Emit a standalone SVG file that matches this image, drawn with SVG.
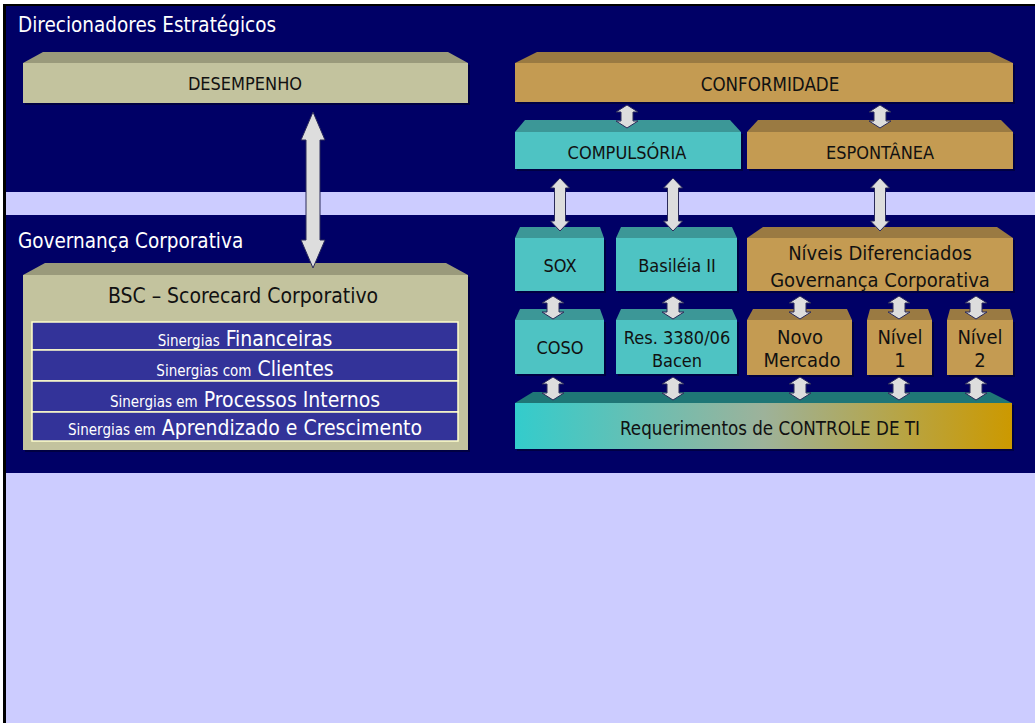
<svg xmlns="http://www.w3.org/2000/svg" width="1035" height="723" viewBox="0 0 1035 723">
<defs>
<linearGradient id="gradTI" x1="0" y1="0" x2="1" y2="0">
<stop offset="0" stop-color="#33CCCC"/>
<stop offset="0.5" stop-color="#9DB29A"/>
<stop offset="1" stop-color="#CC9900"/>
</linearGradient>
<style>
text{font-family:"DejaVu Sans Condensed","DejaVu Sans",sans-serif;font-stretch:condensed}
.lbl{font-size:18px;fill:#111111;text-anchor:middle}
.big{font-size:20px;fill:#111111;text-anchor:middle}
.sec{font-size:20.5px;fill:#FFFFFF}
.row{font-size:21px;fill:#FFFFFF;text-anchor:middle}
.sm{font-size:15px}
.olF{fill:#C3C39E}.olT{fill:#9A9A7B}
.goF{fill:#C49B52}.goT{fill:#9A7A42}
.teF{fill:#4EC3C3}.teT{fill:#3C9797}
.shd{fill:#000000;opacity:0.35}
.rowr{fill:#333399;stroke:#FFFFCC;stroke-width:1.5}
.arr{fill:#DDDDDD;stroke:#2A2A5A;stroke-width:1}
</style>
</defs>
<rect x="0" y="0" width="1035" height="723" fill="#FFFFFF"/>
<rect x="3" y="4" width="1032" height="719" fill="#000000"/>
<rect x="6" y="6" width="1029" height="186" fill="#000066"/>
<rect x="6" y="192" width="1029" height="23" fill="#CCCCFF"/>
<rect x="6" y="215" width="1029" height="258" fill="#000066"/>
<rect x="6" y="473" width="1029" height="250" fill="#CCCCFF"/>
<text class="sec" x="18" y="32">Direcionadores Estratégicos</text>
<text class="sec" x="18" y="248">Governança Corporativa</text>

<g id="desempenho">
<rect class="shd" x="25" y="65" width="445" height="40"/>
<polygon class="olT" points="23,63 43,52 448,52 468,63"/>
<rect class="olF" x="23" y="63" width="445" height="40"/>
<text class="lbl" x="245" y="90">DESEMPENHO</text>
</g>

<g id="bsc">
<rect class="shd" x="25" y="277" width="445" height="175"/>
<polygon class="olT" points="23,275 45,263 446,263 468,275"/>
<rect class="olF" x="23" y="275" width="445" height="175"/>
<text class="big" x="243" y="303" style="font-size:21px">BSC – Scorecard Corporativo</text>
<rect class="rowr" x="32" y="322" width="426" height="28"/>
<rect class="rowr" x="32" y="350" width="426" height="31"/>
<rect class="rowr" x="32" y="381" width="426" height="31"/>
<rect class="rowr" x="32" y="412" width="426" height="29"/>
<text class="row" x="245" y="346"><tspan class="sm">Sinergias</tspan> Financeiras</text>
<text class="row" x="245" y="376"><tspan class="sm">Sinergias com</tspan> Clientes</text>
<text class="row" x="245" y="407"><tspan class="sm">Sinergias em</tspan> Processos Internos</text>
<text class="row" x="245" y="435"><tspan class="sm">Sinergias em</tspan> Aprendizado e Crescimento</text>
</g>

<g id="conformidade">
<rect class="shd" x="517" y="65" width="498" height="39"/>
<polygon class="goT" points="515,63 537,52 990,52 1013,63"/>
<rect class="goF" x="515" y="63" width="498" height="39"/>
<text class="lbl" x="770" y="91" style="font-size:18.6px">CONFORMIDADE</text>
</g>

<g id="compulsoria">
<rect class="shd" x="517" y="134" width="226" height="37"/>
<polygon class="teT" points="515,132 525,120 730,120 741,132"/>
<rect class="teF" x="515" y="132" width="226" height="37"/>
<text class="lbl" x="627" y="159">COMPULSÓRIA</text>
</g>

<g id="espontanea">
<rect class="shd" x="749" y="134" width="266" height="37"/>
<polygon class="goT" points="747,132 758,120 1001,120 1013,132"/>
<rect class="goF" x="747" y="132" width="266" height="37"/>
<text class="lbl" x="880" y="159">ESPONTÂNEA</text>
</g>

<g id="sox">
<rect class="shd" x="517" y="240" width="89" height="53"/>
<polygon class="teT" points="515,238 520,227 600,227 604,238"/>
<rect class="teF" x="515" y="238" width="89" height="53"/>
<text class="lbl" x="560" y="272">SOX</text>
</g>

<g id="basileia">
<rect class="shd" x="618" y="240" width="121" height="53"/>
<polygon class="teT" points="616,238 621,227 732,227 737,238"/>
<rect class="teF" x="616" y="238" width="121" height="53"/>
<text class="lbl" x="677" y="272">Basiléia II</text>
</g>

<g id="niveis">
<rect class="shd" x="749" y="240" width="266" height="53"/>
<polygon class="goT" points="747,238 763,227 997,227 1013,238"/>
<rect class="goF" x="747" y="238" width="266" height="53"/>
<text class="big" x="880" y="260">Níveis Diferenciados</text>
<text class="big" x="880" y="287">Governança Corporativa</text>
</g>

<g id="coso">
<rect class="shd" x="517" y="322" width="89" height="54"/>
<polygon class="teT" points="515,320 520,309 600,309 604,320"/>
<rect class="teF" x="515" y="320" width="89" height="54"/>
<text class="lbl" x="560" y="354">COSO</text>
</g>

<g id="res3380">
<rect class="shd" x="618" y="322" width="121" height="54"/>
<polygon class="teT" points="616,320 621,309 732,309 737,320"/>
<rect class="teF" x="616" y="320" width="121" height="54"/>
<text class="lbl" x="677" y="344">Res. 3380/06</text>
<text class="lbl" x="677" y="367">Bacen</text>
</g>

<g id="novomercado">
<rect class="shd" x="749" y="322" width="105" height="55"/>
<polygon class="goT" points="747,320 753,309 847,309 852,320"/>
<rect class="goF" x="747" y="320" width="105" height="55"/>
<text class="big" x="800" y="344">Novo</text>
<text class="big" x="802" y="367">Mercado</text>
</g>

<g id="nivel1">
<rect class="shd" x="869" y="322" width="65" height="55"/>
<polygon class="goT" points="867,320 870,309 928,309 932,320"/>
<rect class="goF" x="867" y="320" width="65" height="55"/>
<text class="big" x="900" y="344">Nível</text>
<text class="big" x="900" y="367">1</text>
</g>

<g id="nivel2">
<rect class="shd" x="949" y="322" width="66" height="55"/>
<polygon class="goT" points="947,320 950,309 1010,309 1013,320"/>
<rect class="goF" x="947" y="320" width="66" height="55"/>
<text class="big" x="980" y="344">Nível</text>
<text class="big" x="980" y="367">2</text>
</g>

<g id="controleti">
<rect class="shd" x="517" y="405" width="497" height="46"/>
<polygon fill="#1F7676" points="515,403 533,392 990,392 1012,403"/>
<rect fill="url(#gradTI)" x="515" y="403" width="497" height="46"/>
<text class="lbl" x="770" y="435" style="font-size:18.6px">Requerimentos de CONTROLE DE TI</text>
</g>

<g id="connectors">
<polygon class="arr" points="313,112 325,140 320,140 320,240 325,240 313,268 301,240 306,240 306,140 301,140"/>
<polygon class="arr" points="627,105 638,112 633,112 633,121 638,121 627,128 616,121 621,121 621,112 616,112"/>
<polygon class="arr" points="880,105 891,112 886,112 886,121 891,121 880,128 869,121 874,121 874,112 869,112"/>
<polygon class="arr" points="560,178 569.5,188 565.5,188 565.5,221 569.5,221 560,231 550.5,221 554.5,221 554.5,188 550.5,188"/>
<polygon class="arr" points="673,178 682.5,188 678.5,188 678.5,221 682.5,221 673,231 663.5,221 667.5,221 667.5,188 663.5,188"/>
<polygon class="arr" points="880,178 889.5,188 885.5,188 885.5,221 889.5,221 880,231 870.5,221 874.5,221 874.5,188 870.5,188"/>
<polygon class="arr" points="553,296 564,303 559,303 559,312 564,312 553,319 542,312 547,312 547,303 542,303"/>
<polygon class="arr" points="673,296 684,303 679,303 679,312 684,312 673,319 662,312 667,312 667,303 662,303"/>
<polygon class="arr" points="800,296 811,303 806,303 806,312 811,312 800,319 789,312 794,312 794,303 789,303"/>
<polygon class="arr" points="899,296 910,303 905,303 905,312 910,312 899,319 888,312 893,312 893,303 888,303"/>
<polygon class="arr" points="976,296 987,303 982,303 982,312 987,312 976,319 965,312 970,312 970,303 965,303"/>
<polygon class="arr" points="553,377 564,384 559,384 559,393 564,393 553,400 542,393 547,393 547,384 542,384"/>
<polygon class="arr" points="673,377 684,384 679,384 679,393 684,393 673,400 662,393 667,393 667,384 662,384"/>
<polygon class="arr" points="800,377 811,384 806,384 806,393 811,393 800,400 789,393 794,393 794,384 789,384"/>
<polygon class="arr" points="899,377 910,384 905,384 905,393 910,393 899,400 888,393 893,393 893,384 888,384"/>
<polygon class="arr" points="976,377 987,384 982,384 982,393 987,393 976,400 965,393 970,393 970,384 965,384"/>
</g>
</svg>
